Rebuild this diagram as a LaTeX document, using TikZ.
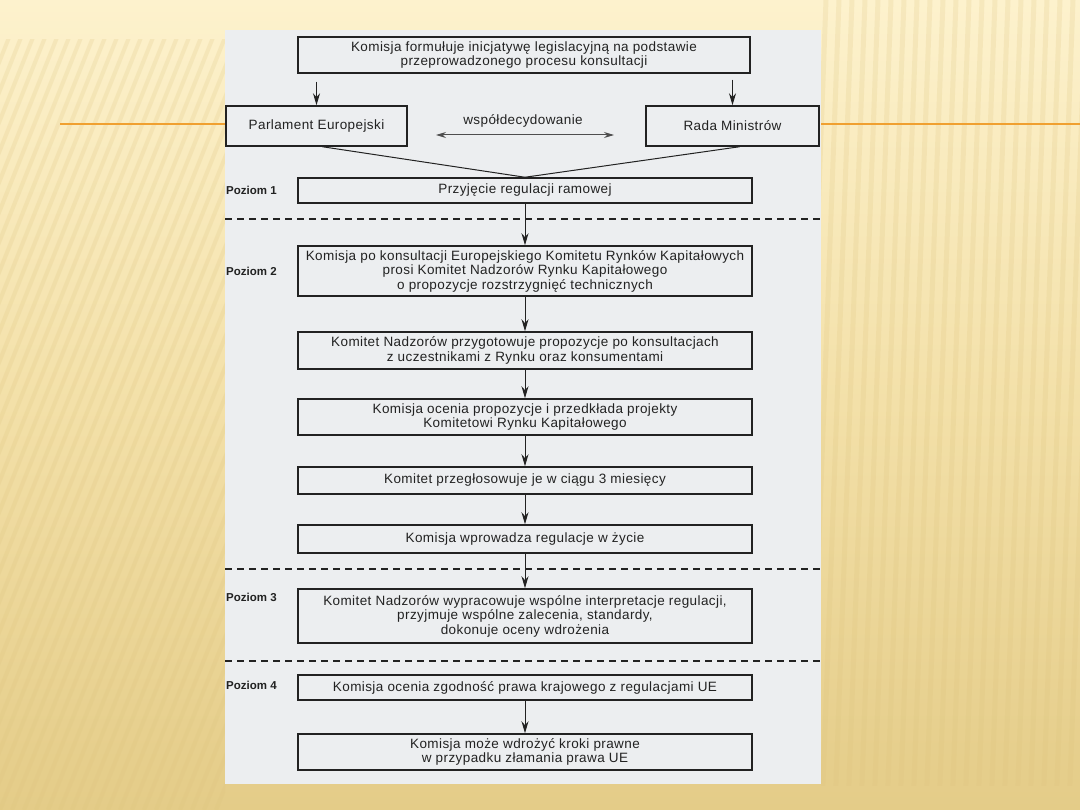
\documentclass[tikz,border=0pt]{standalone}
\usepackage{fontspec}
\setmainfont{Liberation Sans}[LetterSpace=3]
\newfontfamily\lvlfont{Liberation Sans}
\usetikzlibrary{arrows.meta}
\definecolor{bgtop}{HTML}{FDF2CD}
\definecolor{bgmid}{HTML}{F3E0A8}
\definecolor{bgbot}{HTML}{E4CC88}
\definecolor{scan}{HTML}{ECEEF0}
\definecolor{ink}{HTML}{222222}
\definecolor{orangeline}{HTML}{F0A030}
\definecolor{stripe}{HTML}{DCC27C}
\begin{document}
\begin{tikzpicture}[x=1pt,y=-1pt,
  box/.style={draw=ink, line width=1.5pt, align=center, inner sep=0pt,
    font=\fontsize{13.5}{14.5}\selectfont, text=ink, minimum width=454pt},
  sidebox/.style={box, minimum width=0pt},
  arr/.style={draw=ink, line width=1pt, -{Stealth[length=12pt,width=7pt]}},
  darr/.style={draw=ink!80, line width=1pt, {Stealth[length=10pt,width=6pt]}-{Stealth[length=10pt,width=6pt]}},
  conn/.style={draw=ink, line width=1pt},
  levelline/.style={draw=ink, line width=1.4pt, dash pattern=on 7pt off 5pt},
  level/.style={anchor=west, inner sep=0pt, text=ink, font=\lvlfont\bfseries\fontsize{11.5}{14}\selectfont},
  lbl/.style={inner sep=0pt, text=ink, font=\fontsize{13.5}{14.5}\selectfont}]
\useasboundingbox (0,0) rectangle (1080,810);
% background
\shade[top color=bgtop, bottom color=bgbot, middle color=bgmid] (0,0) rectangle (1080,810);
\begin{scope}
  \clip (0,40) rectangle (225,810);
  \foreach \i in {0,...,46} {
    \draw[stripe, line width=4pt, opacity=0.2] (-312+12*\i,810) -- ++(320,-800);
  }
\end{scope}
\begin{scope}
  \clip (821,0) rectangle (1080,785);
  \foreach \i in {0,...,24} {
    \draw[stripe, line width=5pt, opacity=0.2] (826+13*\i,0) -- ++(-30,810);
  }
\end{scope}
\draw[orangeline, line width=2.5pt] (60,124) -- (1080,124);
% scanned page
\fill[scan] (225,30) rectangle (821,784);
% boxes
\node[box, minimum width=452pt, minimum height=36pt] (top) at (524,55)
  {Komisja formułuje inicjatywę legislacyjną na podstawie\\przeprowadzonego procesu konsultacji};
\node[sidebox, minimum width=181pt, minimum height=40pt] (parl) at (316.5,126) {Parlament Europejski};
\node[sidebox, minimum width=173pt, minimum height=40pt] (rada) at (732.5,126) {Rada Ministrów};
\node[lbl] (wsp) at (523,121) {współdecydowanie};
\coordinate (wl) at (436,135);
\coordinate (wr) at (614,135);
\node[box, minimum height=25pt] (p1) at (525,190.5) {Przyjęcie regulacji ramowej};
\node[box, minimum height=50pt] (p2) at (525,271)
  {Komisja po konsultacji Europejskiego Komitetu Rynków Kapitałowych\\prosi Komitet Nadzorów Rynku Kapitałowego\\o propozycje rozstrzygnięć technicznych};
\node[box, minimum height=37pt] (b3) at (525,350.5)
  {Komitet Nadzorów przygotowuje propozycje po konsultacjach\\z uczestnikami z Rynku oraz konsumentami};
\node[box, minimum height=36pt] (b4) at (525,417)
  {Komisja ocenia propozycje i przedkłada projekty\\Komitetowi Rynku Kapitałowego};
\node[box, minimum height=27pt] (b5) at (525,480.5) {Komitet przegłosowuje je w ciągu 3 miesięcy};
\node[box, minimum height=28pt] (b6) at (525,539) {Komisja wprowadza regulacje w życie};
\node[box, minimum height=54pt] (b7) at (525,616)
  {Komitet Nadzorów wypracowuje wspólne interpretacje regulacji,\\przyjmuje wspólne zalecenia, standardy,\\dokonuje oceny wdrożenia};
\node[box, minimum height=25pt] (b8) at (525,687.5) {Komisja ocenia zgodność prawa krajowego z regulacjami UE};
\node[box, minimum height=36pt] (b9) at (525,752)
  {Komisja może wdrożyć kroki prawne\\w przypadku złamania prawa UE};
% level labels
\node[level] (l1) at (226,190.5) {Poziom 1};
\node[level] (l2) at (226,271) {Poziom 2};
\node[level] (l3) at (226,597) {Poziom 3};
\node[level] (l4) at (226,685) {Poziom 4};
% dashed level separators
\coordinate (d1l) at (225,219); \coordinate (d1r) at (821,219);
\coordinate (d2l) at (225,569); \coordinate (d2r) at (821,569);
\coordinate (d3l) at (225,661); \coordinate (d3r) at (821,661);
\draw[levelline] (d1l) -- (d1r);
\draw[levelline] (d2l) -- (d2r);
\draw[levelline] (d3l) -- (d3r);
% connectors
\draw[arr, shorten <=8pt] (top.south -| parl.north) -- (parl.north);
\draw[arr, shorten <=6pt] (top.south -| rada.north) -- (rada.north);
\draw[darr] (wl) -- (wr);
\draw[conn] ([xshift=6pt]parl.south) -- (p1.north);
\draw[conn] ([xshift=7pt]rada.south) -- (p1.north);
\draw[arr] (p1) -- (p2);
\draw[arr] (p2) -- (b3);
\draw[arr] (b3) -- (b4);
\draw[arr] (b4) -- (b5);
\draw[arr] (b5) -- (b6);
\draw[arr] (b6) -- (b7);
\draw[arr] (b8) -- (b9);
\end{tikzpicture}
\end{document}
